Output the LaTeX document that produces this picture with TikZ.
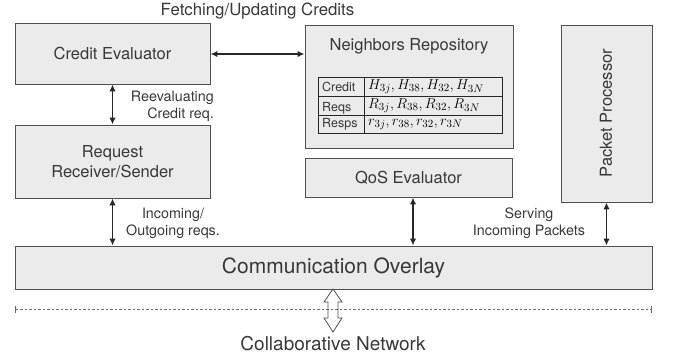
\documentclass[tikz,border=0pt]{standalone}
\usepackage{fontspec}
\setmainfont{TeX Gyre Heros}
\usetikzlibrary{arrows.meta,positioning}
\definecolor{boxfill}{HTML}{EBEBEB}
\definecolor{boxline}{HTML}{505050}
\definecolor{ink}{HTML}{383838}
\tikzset{
  block/.style={draw=boxline, fill=boxfill, line width=0.9pt, rectangle, inner sep=0pt,
    text=ink, font=\fontsize{16.5}{20}\selectfont, align=center},
  biglabel/.style={text=ink, font=\fontsize{16.5}{20}\selectfont, inner sep=0pt},
  small/.style={text=ink, font=\fontsize{14.3}{17}\selectfont, inner sep=0pt},
  cell/.style={draw=black!85, line width=0.7pt, rectangle, inner sep=0pt, minimum height=19pt,
    anchor=north west},
  celltext/.style={text=ink, inner sep=0pt, anchor=west, font=\fontsize{12.5}{14}\selectfont},
  cellmath/.style={inner sep=0pt, anchor=west, font=\fontsize{15}{17}\selectfont},
  link/.style={line width=1.4pt, black!85, {Latex[length=7pt,width=6.5pt]}-{Latex[length=7pt,width=6.5pt]}},
}
\begin{document}
\begin{tikzpicture}[x=1pt, y=-1pt]
  \useasboundingbox (0,0) rectangle (673,360);

  % main components
  \node[block, minimum width=195pt, minimum height=61pt] (credit) at (112.5,53.5) {Credit Evaluator};
  \node[block, minimum width=195pt, minimum height=73pt] (request) at (112.5,161.5) {Request\\Receiver/Sender};
  \node[block, minimum width=208pt, minimum height=123pt] (neigh) at (409,86.5) {};
  \node[biglabel] (neightitle) at (409,46) {Neighbors Repository};
  \node[block, minimum width=207pt, minimum height=39pt] (qos) at (408.5,177.5) {QoS Evaluator};
  \node[block, minimum width=91pt, minimum height=177pt] (packet) at (606.5,113.5) {};
  \node[biglabel, rotate=90] (packettitle) at (606,113) {Packet Processor};
  \node[block, minimum width=637pt, minimum height=43pt, font=\fontsize{21}{24}\selectfont] (comm) at (333.5,267.5) {Communication Overlay};

  % credit table inside the repository
  \node[cell, minimum width=46pt] (c1) at (318,77) {};
  \node[cell, minimum width=138pt] (v1) at (364,77) {};
  \node[cell, minimum width=46pt] (c2) at (318,96) {};
  \node[cell, minimum width=138pt] (v2) at (364,96) {};
  \node[cell, minimum width=46pt, minimum height=18pt] (c3) at (318,115) {};
  \node[cell, minimum width=138pt, minimum height=18pt] (v3) at (364,115) {};
  \node[celltext] (t1) at ([xshift=4pt]c1.west) {Credit};
  \node[celltext] (t2) at ([xshift=4pt,yshift=-2pt]c2.west) {Reqs};
  \node[celltext] (t3) at ([xshift=4pt]c3.west) {Resps};
  \node[cellmath] (m1) at ([xshift=4pt]v1.west) {$H_{3j}, H_{38}, H_{32}, H_{3N}$};
  \node[cellmath] (m2) at ([xshift=4pt]v2.west) {$R_{3j}, R_{38}, R_{32}, R_{3N}$};
  \node[cellmath] (m3) at ([xshift=4pt]v3.west) {$r_{3j}, r_{38}, r_{32}, r_{3N}$};

  % connectors
  \draw[link] (credit.east |- 0,54) -- (neigh.west |- 0,54);
  \draw[link] (credit.south) -- (request.north);
  \draw[link] (request.south) -- (request.south |- comm.north);
  \draw[link] ([xshift=4.5pt]qos.south) -- ([xshift=4.5pt]qos.south |- comm.north);
  \draw[link] (packet.south) -- (packet.south |- comm.north);

  % connector labels
  \node[biglabel, font=\fontsize{16.8}{20}\selectfont] (fetch) at (257.5,11) {Fetching/Updating Credits};
  \node[small, anchor=east, align=right] (reeval) at (214,106) {Reevaluating\\Credit req.};
  \node[small, align=center] (inout) at (173,223) {Incoming/\\Outgoing reqs.};
  \node[small, align=center] (serving) at (529,223) {Serving\\Incoming Packets};

  % network boundary
  \coordinate (netL) at (15,309);
  \coordinate (netR) at (652,309);
  \draw[boxline!85, line width=0.8pt, dash pattern=on 2.5pt off 2pt,
        {Bar[width=7pt,line width=1pt]}-{Bar[width=7pt,line width=1pt]}] (netL) -- (netR);

  % hollow double arrow to the network
  \coordinate (ha) at (333,289);
  \draw[boxline, line width=0.8pt]
    (ha) -- ++(-9,13) -- ++(4,0) -- ++(0,16) -- ++(-4,0) -- ++(9,14)
    -- ++(9,-14) -- ++(-4,0) -- ++(0,-16) -- ++(4,0) -- cycle;
  \node[biglabel, font=\fontsize{19}{22}\selectfont] (collab) at (333,344) {Collaborative Network};
\end{tikzpicture}
\end{document}
